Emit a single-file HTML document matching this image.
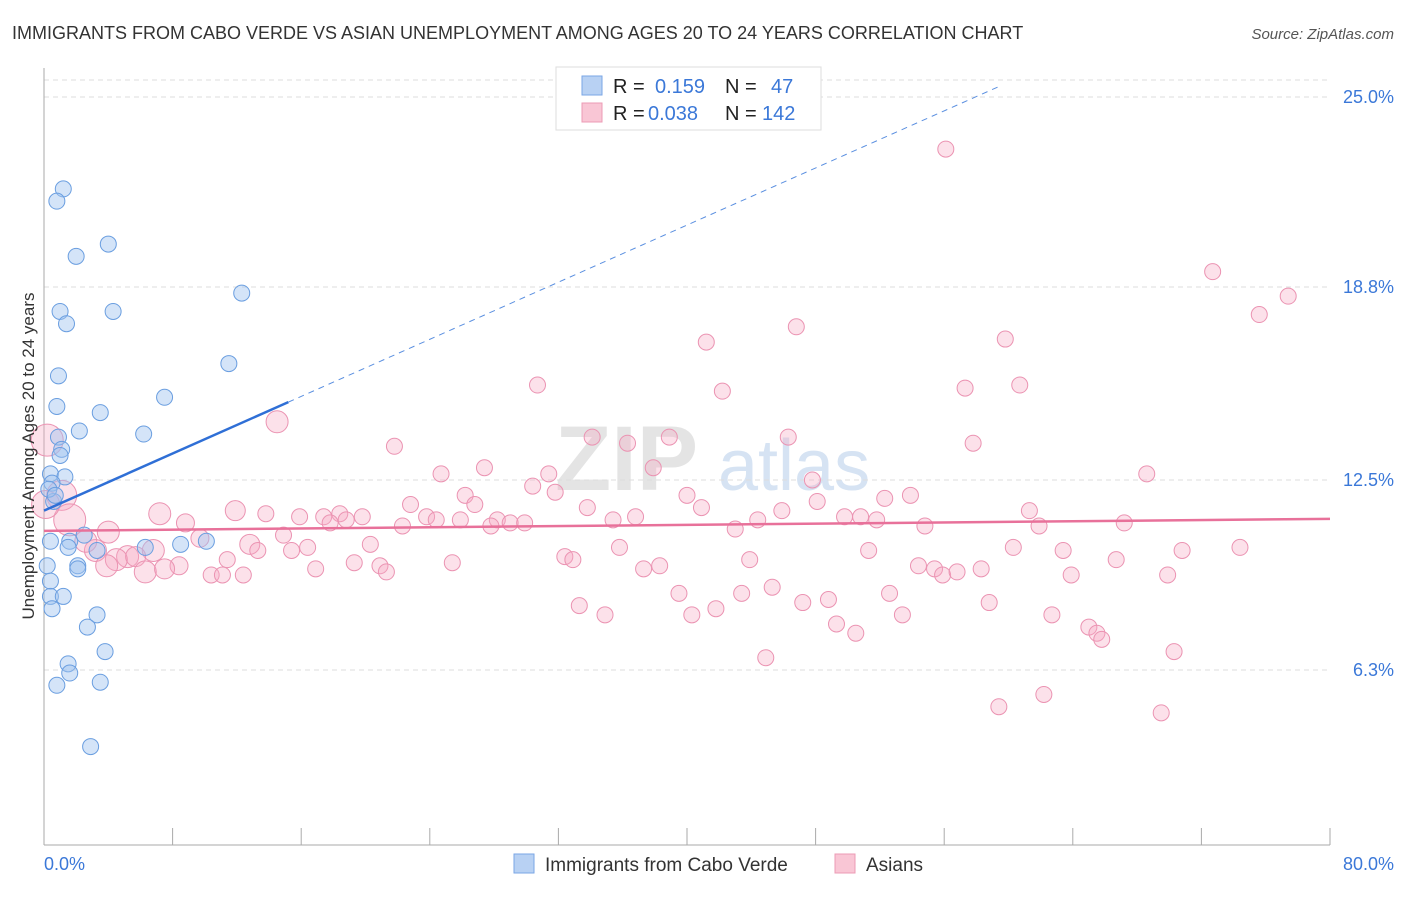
<!DOCTYPE html>
<html><head><meta charset="utf-8"><style>
body{margin:0;background:#fff;font-family:"Liberation Sans",sans-serif;}
svg text{font-family:"Liberation Sans",sans-serif;}
</style></head><body>
<svg id="chart" width="1406" height="892" viewBox="0 0 1406 892" xmlns="http://www.w3.org/2000/svg">
<text x="12" y="39" font-size="18" fill="#333">IMMIGRANTS FROM CABO VERDE VS ASIAN UNEMPLOYMENT AMONG AGES 20 TO 24 YEARS CORRELATION CHART</text>
<text x="1394" y="39" font-size="15" fill="#555" text-anchor="end" font-style="italic">Source: ZipAtlas.com</text>
<text x="555" y="490" font-size="92" fill="#e4e4e4" font-family="Liberation Serif" font-weight="bold">ZIP</text>
<text x="718" y="490" font-size="72" fill="#d6e3f3">atlas</text>
<g id="grid"></g>
<g id="axes"></g>
<g id="pink"></g>
<g id="blue"></g>
<g id="trends"></g>
<text transform="translate(34,456) rotate(-90)" font-size="17" fill="#333" text-anchor="middle">Unemployment Among Ages 20 to 24 years</text>
<text x="44" y="870" font-size="18" fill="#3b78d8">0.0%</text>
<text x="1394" y="870" font-size="18" fill="#3b78d8" text-anchor="end">80.0%</text>
<g>
<rect x="556" y="67" width="265" height="63" fill="#fff" stroke="#ddd"/>
<rect x="582" y="76" width="20" height="19" fill="#b8d1f3" stroke="#7aa6e6"/>
<rect x="582" y="103" width="20" height="19" fill="#f9c6d5" stroke="#ec9bb5"/>
<text x="613" y="93" font-size="20" fill="#222">R = </text><text x="655" y="93" font-size="20" fill="#3b78d8">0.159</text>
<text x="725" y="93" font-size="20" fill="#222">N = </text><text x="771" y="93" font-size="20" fill="#3b78d8">47</text>
<text x="613" y="120" font-size="20" fill="#222">R = </text><text x="648" y="120" font-size="20" fill="#3b78d8">0.038</text>
<text x="725" y="120" font-size="20" fill="#222">N = </text><text x="762" y="120" font-size="20" fill="#3b78d8">142</text>
</g>
<g>
<rect x="514" y="854" width="20" height="19" fill="#b8d1f3" stroke="#7aa6e6"/>
<text x="545" y="871" font-size="19" fill="#333">Immigrants from Cabo Verde</text>
<rect x="835" y="854" width="20" height="19" fill="#f9c6d5" stroke="#ec9bb5"/>
<text x="866" y="871" font-size="19" fill="#333">Asians</text>
</g>
</svg>
<script>
const yTicks=[6.3,12.5,18.8,25.0];
const yTickLabels=["6.3%","12.5%","18.8%","25.0%"];
const blueX=[1.2,0.8,4.0,2.0,12.3,1.0,4.3,1.4,11.5,0.9,7.5,0.8,3.5,2.2,6.2,0.9,1.1,0.4,1.3,0.5,0.6,0.4,1.6,2.5,1.5,3.3,6.3,8.5,10.1,2.1,0.2,0.4,0.4,1.2,0.5,3.3,2.7,3.8,1.5,1.6,0.8,3.5,2.9,2.1,0.3,0.7,1.0];
const blueY=[22.0,21.6,20.2,19.8,18.6,18.0,18.0,17.6,16.3,15.9,15.2,14.9,14.7,14.1,14.0,13.9,13.5,12.7,12.6,12.4,11.8,10.5,10.5,10.7,10.3,10.2,10.3,10.4,10.5,9.7,9.7,9.2,8.7,8.7,8.3,8.1,7.7,6.9,6.5,6.2,5.8,5.9,3.8,9.6,12.2,12.0,13.3];
const pinkX=[56.1,72.7,77.4,75.6,46.8,41.2,59.8,30.7,42.2,57.3,60.7,14.5,34.1,36.3,38.9,46.3,57.8,21.8,0.2,27.4,37.9,24.7,31.4,47.8,68.6,30.4,31.8,26.2,40.0,53.9,52.3,48.1,26.8,22.8,33.8,40.9,45.9,61.3,7.2,11.9,13.8,15.9,17.4,18.4,19.8,23.8,24.4,25.9,28.2,29.0,29.9,35.4,36.8,44.4,49.8,50.8,51.8,61.9,8.8,17.8,18.8,22.3,27.8,54.8,67.2,43.0,1.1,1.6,0.1,12.8,9.7,14.9,20.3,35.8,60.3,63.4,70.8,74.4,6.8,5.2,13.3,15.4,16.4,3.2,4.5,5.7,32.4,32.9,51.3,43.9,66.7,3.9,11.4,6.3,8.4,19.3,20.9,25.4,16.9,21.3,37.3,38.3,54.4,55.4,55.9,56.8,58.3,63.9,69.9,10.4,11.1,12.4,39.5,45.3,43.4,52.6,48.8,33.3,34.9,40.3,41.8,47.2,58.8,53.4,62.7,49.3,50.5,65.0,65.5,65.8,70.3,44.9,62.2,59.4,69.5,2.6,4.0,7.5];
const pinkY=[23.3,19.3,18.5,17.9,17.5,17.0,17.1,15.6,15.4,15.5,15.6,14.4,13.9,13.7,13.9,13.9,13.7,13.6,13.8,12.9,12.9,12.7,12.7,12.5,12.7,12.3,12.1,12.0,12.0,12.0,11.9,11.8,11.7,11.7,11.6,11.6,11.5,11.5,11.4,11.5,11.4,11.3,11.3,11.4,11.3,11.3,11.2,11.2,11.2,11.1,11.1,11.2,11.3,11.2,11.3,11.3,11.2,11.0,11.1,11.1,11.2,11.0,11.0,11.0,11.1,10.9,12.0,11.2,11.7,10.4,10.6,10.7,10.4,10.3,10.3,10.2,10.2,10.3,10.2,10.0,10.2,10.2,10.3,10.2,9.9,10.0,10.0,9.9,10.2,9.9,9.9,9.7,9.9,9.5,9.7,9.8,9.7,9.8,9.6,9.5,9.6,9.7,9.7,9.6,9.4,9.5,9.6,9.4,9.4,9.4,9.4,9.4,8.8,9.0,8.8,8.8,8.6,8.4,8.1,8.1,8.3,8.5,8.5,8.1,8.1,7.8,7.5,7.7,7.5,7.3,6.9,6.7,5.5,5.1,4.9,10.5,10.8,9.6];
const pinkR=[8,8,8,8,8,8,8,8,8,8,8,11,8,8,8,8,8,8,16,8,8,8,8,8,8,8,8,8,8,8,8,8,8,8,8,8,8,8,11,10,8,8,8,8,8,8,8,8,8,8,8,8,8,8,8,8,8,8,9,8,8,8,8,8,8,8,15,16,14,10,9,8,8,8,8,8,8,8,11,11,8,8,8,11,11,10,8,8,8,8,8,11,8,11,9,8,8,8,8,8,8,8,8,8,8,8,8,8,8,8,8,8,8,8,8,8,8,8,8,8,8,8,8,8,8,8,8,8,8,8,8,8,8,8,8,11,11,10];
const blueTrend=[11.5,0.233];
const pinkTrend=[10.84,0.0049];
const NS="http://www.w3.org/2000/svg";
const xs=v=>44+v*16.075, ys=v=>863-v*30.64;
function mk(tag,attrs,parent){const e=document.createElementNS(NS,tag);for(const k in attrs)e.setAttribute(k,attrs[k]);parent.appendChild(e);return e;}
const grid=document.getElementById('grid'),axes=document.getElementById('axes');
let g0=mk('line',{x1:44,x2:1330,y1:80,y2:80,stroke:'#ddd','stroke-dasharray':'5,4'},grid);


yTicks.forEach((t,i)=>{
 const y=ys(t*1.0);
 const l=mk('line',{x1:44,x2:1330,y1:y,y2:y,stroke:'#ddd','stroke-dasharray':'5,4'},grid);
 
 
 const tx=mk('text',{x:1394,y:y+6,'font-size':18,fill:'#3b78d8','text-anchor':'end'},grid);
 tx.textContent=yTickLabels[i];
 
 
});
const al=mk('line',{x1:44,x2:44,y1:68,y2:845,stroke:'#aaa'},axes);


const bl=mk('line',{x1:44,x2:1330,y1:845,y2:845,stroke:'#aaa'},axes);


for(let i=0;i<=10;i++){const x=xs(i*8);
 const t=mk('line',{x1:x,x2:x,y1:828,y2:845,stroke:'#aaa'},axes);
 
 }
const pg=document.getElementById('pink');
pinkX.forEach((v,i)=>{
 const c=mk('circle',{cx:xs(v),cy:ys(pinkY[i]),r:pinkR[i]||8,fill:'rgba(246,170,196,0.35)',stroke:'#eb93b2','stroke-width':1},pg);
 
 
});
const bg=document.getElementById('blue');
blueX.forEach((v,i)=>{
 const c=mk('circle',{cx:xs(v),cy:ys(blueY[i]),r:8,fill:'rgba(160,196,240,0.45)',stroke:'#6a9ee0','stroke-width':1},bg);
 
 
});
const tg=document.getElementById('trends');
const bt1=mk('line',{x1:xs(0),y1:ys(blueTrend[0]),x2:xs(15.2),y2:ys(blueTrend[0]+blueTrend[1]*15.2),stroke:'#2f6fd6','stroke-width':2.5},tg);


const bt2=mk('line',{x1:xs(15.2),y1:ys(blueTrend[0]+blueTrend[1]*15.2),x2:xs(59.5),y2:ys(blueTrend[0]+blueTrend[1]*59.5),stroke:'#5a8fe0','stroke-width':1,'stroke-dasharray':'6,5'},tg);


const pt=mk('line',{x1:xs(0),y1:ys(pinkTrend[0]),x2:xs(80),y2:ys(pinkTrend[0]+pinkTrend[1]*80),stroke:'#e8719a','stroke-width':2.5},tg);


</script>
</body></html>
